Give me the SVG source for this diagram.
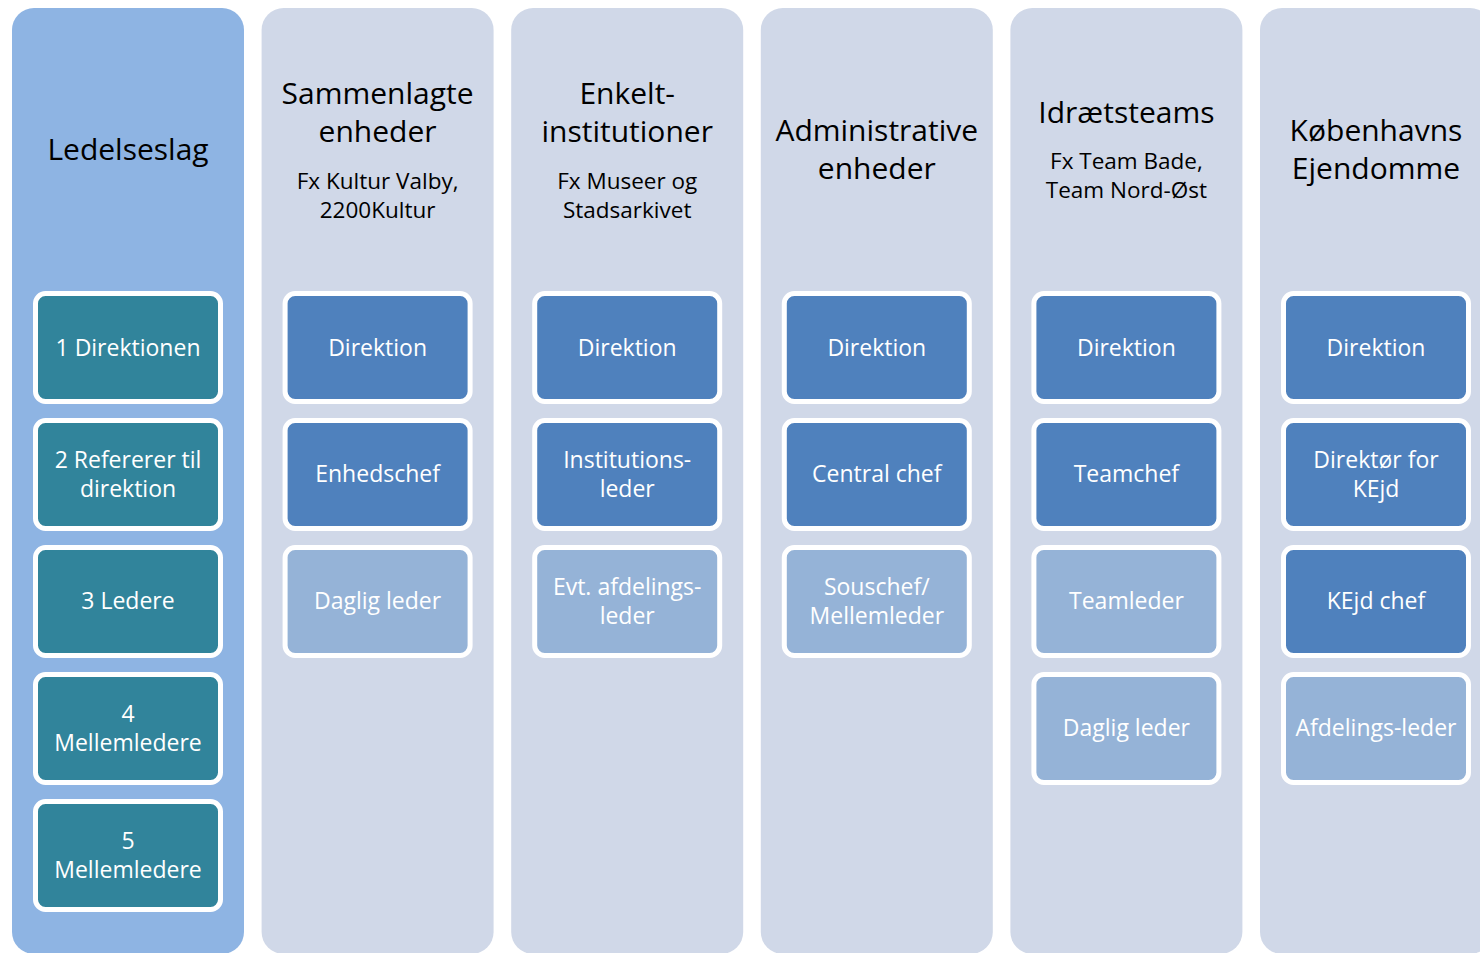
<svg xmlns="http://www.w3.org/2000/svg" width="1480" height="953" viewBox="0 0 1480 953">
<style>
.col{fill:#D0D8E8}
.col0{fill:#8EB4E3}
.b{stroke:#FFFFFF;stroke-width:5}
.teal{fill:#31849B}
.dk{fill:#4F81BD}
.lt{fill:#95B3D7}
text{font-family:"Open Sans","Liberation Sans",sans-serif;text-anchor:middle}
.h{font-size:30px;fill:#000}
.s{font-size:22.5px;fill:#000}
.t{font-size:23px;fill:#FFFFFF}
</style>
<rect width="1480" height="953" fill="#FFFFFF"/>
<g id="columns">
<rect class="col0" x="12" y="8" width="232" height="946" rx="22"/>
<rect class="col" x="261.6" y="8" width="232" height="946" rx="22"/>
<rect class="col" x="511.2" y="8" width="232" height="946" rx="22"/>
<rect class="col" x="760.8" y="8" width="232" height="946" rx="22"/>
<rect class="col" x="1010.4" y="8" width="232" height="946" rx="22"/>
<rect class="col" x="1260" y="8" width="232" height="946" rx="22"/>
</g>
<g id="headers">
<text class="h" x="128" y="160">Ledelseslag</text>
<text class="h" x="377.6" y="104">Sammenlagte</text>
<text class="h" x="377.6" y="142">enheder</text>
<text class="s" x="377.6" y="189">Fx Kultur Valby,</text>
<text class="s" x="377.6" y="218">2200Kultur</text>
<text class="h" x="627.2" y="104">Enkelt-</text>
<text class="h" x="627.2" y="142">institutioner</text>
<text class="s" x="627.2" y="189">Fx Museer og</text>
<text class="s" x="627.2" y="218">Stadsarkivet</text>
<text class="h" x="876.8" y="141">Administrative</text>
<text class="h" x="876.8" y="179">enheder</text>
<text class="h" x="1126.4" y="123">Idrætsteams</text>
<text class="s" x="1126.4" y="169">Fx Team Bade,</text>
<text class="s" x="1126.4" y="198">Team Nord-Øst</text>
<text class="h" x="1376" y="141">Københavns</text>
<text class="h" x="1376" y="179">Ejendomme</text>
</g>
<g id="n1-1"><rect class="b teal" x="35.5" y="293.5" width="185" height="108" rx="10"/><text class="t" x="128" y="356">1 Direktionen</text></g>
<g id="n1-2"><rect class="b teal" x="35.5" y="420.5" width="185" height="108" rx="10"/><text class="t" x="128" y="468">2 Refererer til</text><text class="t" x="128" y="497">direktion</text></g>
<g id="n1-3"><rect class="b teal" x="35.5" y="547.5" width="185" height="108" rx="10"/><text class="t" x="128" y="609">3 Ledere</text></g>
<g id="n1-4"><rect class="b teal" x="35.5" y="674.5" width="185" height="108" rx="10"/><text class="t" x="128" y="722">4</text><text class="t" x="128" y="751">Mellemledere</text></g>
<g id="n1-5"><rect class="b teal" x="35.5" y="801.5" width="185" height="108" rx="10"/><text class="t" x="128" y="849">5</text><text class="t" x="128" y="878">Mellemledere</text></g>

<g id="n2-1"><rect class="b dk" x="285.1" y="293.5" width="185" height="108" rx="10"/><text class="t" x="377.6" y="356">Direktion</text></g>
<g id="n2-2"><rect class="b dk" x="285.1" y="420.5" width="185" height="108" rx="10"/><text class="t" x="377.6" y="482">Enhedschef</text></g>
<g id="n2-3"><rect class="b lt" x="285.1" y="547.5" width="185" height="108" rx="10"/><text class="t" x="377.6" y="609">Daglig leder</text></g>

<g id="n3-1"><rect class="b dk" x="534.7" y="293.5" width="185" height="108" rx="10"/><text class="t" x="627.2" y="356">Direktion</text></g>
<g id="n3-2"><rect class="b dk" x="534.7" y="420.5" width="185" height="108" rx="10"/><text class="t" x="627.2" y="468">Institutions-</text><text class="t" x="627.2" y="497">leder</text></g>
<g id="n3-3"><rect class="b lt" x="534.7" y="547.5" width="185" height="108" rx="10"/><text class="t" x="627.2" y="595">Evt. afdelings-</text><text class="t" x="627.2" y="624">leder</text></g>

<g id="n4-1"><rect class="b dk" x="784.3" y="293.5" width="185" height="108" rx="10"/><text class="t" x="876.8" y="356">Direktion</text></g>
<g id="n4-2"><rect class="b dk" x="784.3" y="420.5" width="185" height="108" rx="10"/><text class="t" x="876.8" y="482">Central chef</text></g>
<g id="n4-3"><rect class="b lt" x="784.3" y="547.5" width="185" height="108" rx="10"/><text class="t" x="876.8" y="595">Souschef/</text><text class="t" x="876.8" y="624">Mellemleder</text></g>

<g id="n5-1"><rect class="b dk" x="1033.9" y="293.5" width="185" height="108" rx="10"/><text class="t" x="1126.4" y="356">Direktion</text></g>
<g id="n5-2"><rect class="b dk" x="1033.9" y="420.5" width="185" height="108" rx="10"/><text class="t" x="1126.4" y="482">Teamchef</text></g>
<g id="n5-3"><rect class="b lt" x="1033.9" y="547.5" width="185" height="108" rx="10"/><text class="t" x="1126.4" y="609">Teamleder</text></g>
<g id="n5-4"><rect class="b lt" x="1033.9" y="674.5" width="185" height="108" rx="10"/><text class="t" x="1126.4" y="736">Daglig leder</text></g>

<g id="n6-1"><rect class="b dk" x="1283.5" y="293.5" width="185" height="108" rx="10"/><text class="t" x="1376" y="356">Direktion</text></g>
<g id="n6-2"><rect class="b dk" x="1283.5" y="420.5" width="185" height="108" rx="10"/><text class="t" x="1376" y="468">Direktør for</text><text class="t" x="1376" y="497">KEjd</text></g>
<g id="n6-3"><rect class="b dk" x="1283.5" y="547.5" width="185" height="108" rx="10"/><text class="t" x="1376" y="609">KEjd chef</text></g>
<g id="n6-4"><rect class="b lt" x="1283.5" y="674.5" width="185" height="108" rx="10"/><text class="t" x="1376" y="736">Afdelings-leder</text></g>
<g id="connectors"/>
</svg>
